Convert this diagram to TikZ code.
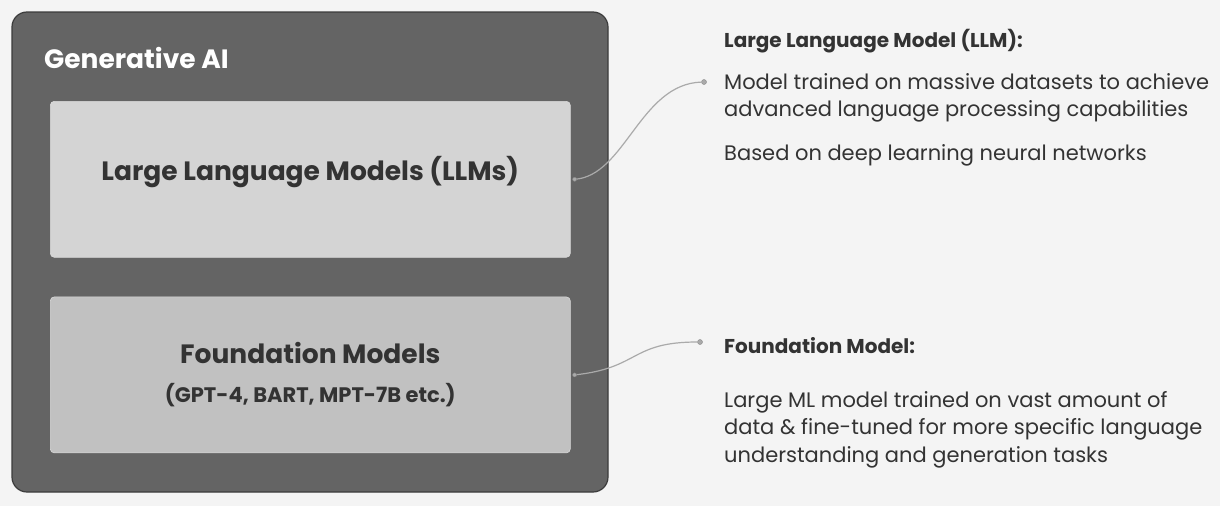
\documentclass[tikz,border=0pt]{standalone}
\usepackage{fontspec}
\setmainfont{Poppins}
\usepackage{tikz}
\usetikzlibrary{positioning,calc}
\definecolor{PageGray}{HTML}{F4F4F4}
\definecolor{OuterGray}{HTML}{646464}
\definecolor{EdgeGray}{HTML}{3C3C3C}
\definecolor{LightBox}{HTML}{D4D4D4}
\definecolor{MidBox}{HTML}{C1C1C1}
\definecolor{InkGray}{HTML}{333333}
\definecolor{WireGray}{HTML}{AAAAAA}

\begin{document}
\begin{tikzpicture}[
  x=1pt, y=-1pt,
  outer/.style={
    draw=EdgeGray, line width=1.2pt, fill=OuterGray,
    rounded corners=15pt,
  },
  inbox/.style={
    draw=white!85!black, line width=0.6pt, rounded corners=4pt,
    minimum width=520pt, minimum height=156pt, inner sep=0pt,
  },
  boxlab/.style={
    font=\fontsize{26.5}{30}\selectfont\bfseries,
    text=InkGray, align=center, anchor=base, inner sep=0pt,
  },
  wire/.style={draw=WireGray, line width=1.2pt},
  tip/.style={circle, draw=WireGray!80!black, fill=WireGray,
    inner sep=0pt, minimum size=5pt},
  headtxt/.style={
    font=\fontsize{20}{24}\selectfont\bfseries,
    text=InkGray, anchor=base west, inner sep=0pt,
  },
  bodytxt/.style={
    font=\fontsize{21}{27.5}\selectfont,
    text=InkGray, anchor=base west, align=left, inner sep=0pt,
  },
]
  % page and frame
  \fill[PageGray] (0,0) rectangle (1220,506);
  \draw[outer] (12,12) rectangle (608,492);
  \node[anchor=base west, inner sep=0pt, text=white,
    font=\fontsize{26.5}{30}\selectfont\bfseries] (gen) at (44,68) {Generative AI};

  % the two inner boxes
  \node[inbox, fill=LightBox, anchor=north west] (llm) at (50,101) {};
  \node[boxlab] (llmtitle) at ($(llm.center)+(0,1)$) {Large Language Models (LLMs)};
  \node[inbox, fill=MidBox, below=39pt of llm] (fm) {};
  \node[boxlab] (fmtitle) at ($(fm.center)+(0,-11)$) {Foundation Models};
  \node[boxlab, font=\fontsize{21}{24}\selectfont\bfseries] (fmlist)
    at ($(fm.center)+(0,28)$) {(GPT-4, BART, MPT-7B etc.)};

  % right hand notes (base = last line)
  \node[headtxt] (llmhead) at (724,47) {Large Language Model (LLM):};
  \node[bodytxt] (llmbody) at (724,160) {%
    Model trained on massive datasets to achieve\\
    advanced language processing capabilities\\[16pt]
    Based on deep learning neural networks};
  \node[headtxt] (fmhead) at (724,353) {Foundation Model:};
  \node[bodytxt] (fmbody) at (724,462) {%
    Large ML model trained on vast amount of\\
    data \& fine-tuned for more specific language\\
    understanding and generation tasks};

  % connectors
  \coordinate (llmfrom) at ($(llm.east)+(4,0)$);
  \coordinate (fmfrom) at ($(fm.east)+(4,0)$);
  \node[tip] (llmdot) at (704,82) {};
  \node[tip] (fmdot) at (700,342) {};
  \draw[wire] (llmfrom) .. controls (625,176) and (640,84) .. (llmdot);
  \draw[wire] (fmfrom) .. controls (640,368) and (630,342) .. (fmdot);
  \node[tip, minimum size=4pt] at (llmfrom) {};
  \node[tip, minimum size=4pt] at (fmfrom) {};
\end{tikzpicture}
\end{document}
